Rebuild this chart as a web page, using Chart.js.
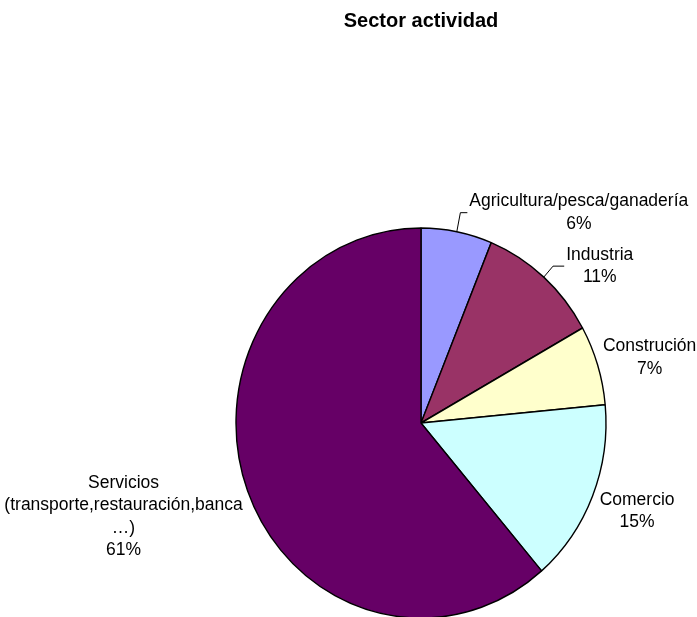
<!DOCTYPE html>
<html>
<head>
<meta charset="utf-8">
<script src="https://cdn.jsdelivr.net/npm/chart.js@4.4.1/dist/chart.umd.min.js"></script>
<style>
  body { margin: 0; background: #fff; }
  #contenedor { width: 697px; height: 617px; }
</style>
</head>
<body>
<div id="contenedor"><canvas id="graficaSector"></canvas></div>
<script>
  // datos
  const sectores = [
    ['Agricultura/pesca/ganadería'],
    ['Industria'],
    ['Construción'],
    ['Comercio'],
    ['Servicios', '(transporte,restauración,banca', '…)']
  ];
  const porcentajes = [6.2, 10.7, 6.6, 15.2, 61.3];
  const colores = ['#9999FF', '#993366', '#FFFFCC', '#CCFFFF', '#660066'];

  // el pastel original esta algo estirado en vertical
  const escalaY = 195 / 185;

  // desplazamiento del bloque de texto respecto al borde del sector
  const posEtiquetas = [
    { dx: 122, dy: -19, guia: true },
    { dx: 56, dy: -11, guia: true },
    { dx: 52, dy: -7.5 },
    { dx: 44.5, dy: 15 },
    { dx: -124, dy: 26 }
  ];

  const fuente = "'Liberation Sans', Arial, sans-serif";
  Chart.defaults.font.family = fuente;

  const pluginElipse = {
    id: 'elipse',
    beforeDatasetsDraw(chart) {
      const arco = chart.getDatasetMeta(0).data[0];
      const ctx = chart.ctx;
      ctx.save();
      ctx.translate(arco.x, arco.y);
      ctx.scale(1, escalaY);
      ctx.translate(-arco.x, -arco.y);
    },
    afterDatasetsDraw(chart) {
      chart.ctx.restore();
    }
  };

  const pluginEtiquetas = {
    id: 'etiquetas',
    afterDraw(chart) {
      const ctx = chart.ctx;
      const meta = chart.getDatasetMeta(0);
      const total = porcentajes.reduce((a, b) => a + b, 0);
      ctx.save();
      ctx.font = '17.5px ' + fuente;
      ctx.fillStyle = '#000';
      ctx.strokeStyle = '#000';
      ctx.lineWidth = 1;
      ctx.textAlign = 'center';
      ctx.textBaseline = 'middle';
      meta.data.forEach((arco, i) => {
        const a = (arco.startAngle + arco.endAngle) / 2;
        const R = arco.outerRadius;
        const ex = arco.x + R * Math.cos(a);
        const ey = arco.y + R * escalaY * Math.sin(a);
        const p = posEtiquetas[i];
        const cx = ex + p.dx;
        const cy = ey + p.dy;
        const lineas = sectores[i].concat([Math.round(porcentajes[i] / total * 100) + '%']);
        const altoLinea = 22.5;
        const ancho = Math.max(...lineas.map(t => ctx.measureText(t).width));
        if (p.guia) {
          const dirX = Math.cos(a);
          const dirY = escalaY * Math.sin(a);
          const t = (cy - ey) / dirY;
          const kx = ex + t * dirX;
          ctx.beginPath();
          ctx.moveTo(ex, ey);
          ctx.lineTo(kx, cy);
          ctx.lineTo(cx - ancho / 2 - 2, cy);
          ctx.stroke();
        }
        const y0 = cy - (lineas.length - 1) * altoLinea / 2;
        lineas.forEach((t, k) => ctx.fillText(t, cx, y0 + k * altoLinea));
      });
      ctx.restore();
    }
  };

  const ctx = document.getElementById('graficaSector').getContext('2d');

  new Chart(ctx, {
    type: 'pie',
    data: {
      labels: sectores,
      datasets: [
        {
          data: porcentajes,
          backgroundColor: colores,
          borderColor: '#000',
          borderWidth: 1.4,
          radius: 185
        }
      ]
    },
    options: {
      responsive: true,
      maintainAspectRatio: false,
      animation: false,
      events: [],
      layout: {
        padding: { left: 236, right: 91, top: 0, bottom: 0 }
      },
      plugins: {
        legend: { display: false },
        tooltip: { enabled: false },
        title: {
          display: true,
          text: 'Sector actividad',
          color: '#000',
          font: { size: 20, weight: 'bold', family: fuente },
          padding: { top: 9, bottom: 196 }
        }
      }
    },
    plugins: [pluginElipse, pluginEtiquetas]
  });
</script>
</body>
</html>
